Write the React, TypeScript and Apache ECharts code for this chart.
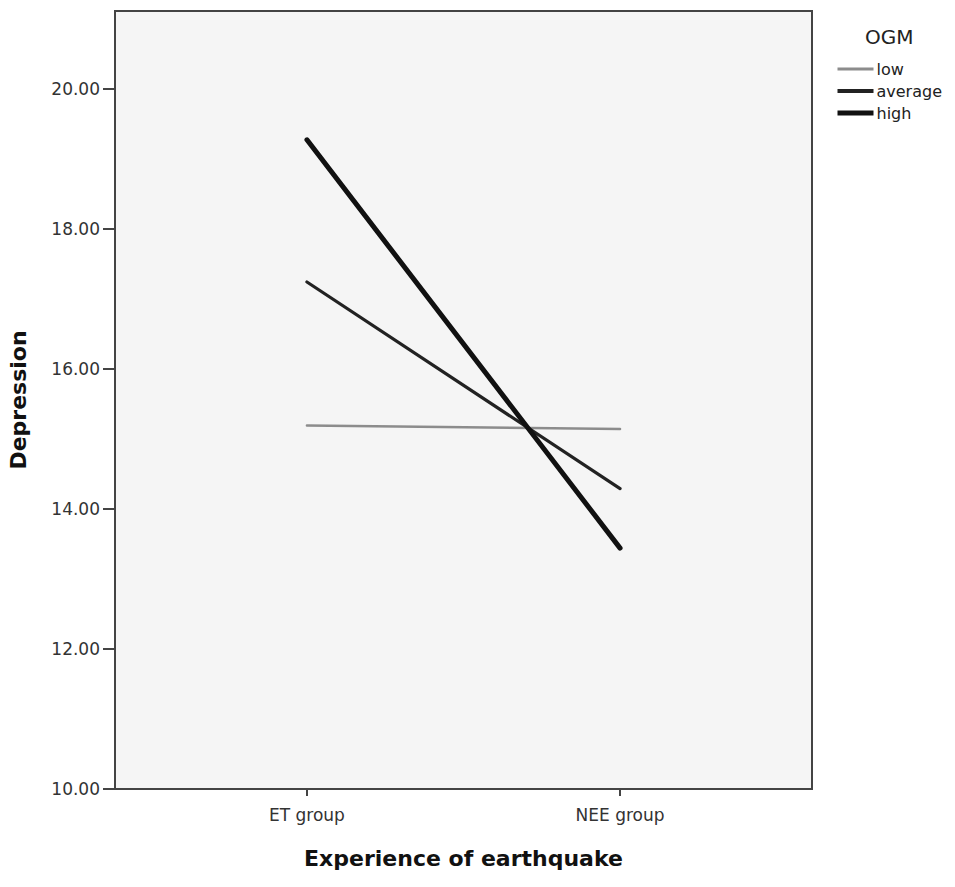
import React, { useEffect, useRef } from "react";
import * as echarts from "echarts";

const categories = ["ET group", "NEE group"];
const seriesNames = ["low", "average", "high"];
const lowValues = [15.19, 15.14];
const averageValues = [17.24, 14.29];
const highValues = [19.27, 13.44];
const yTicks = [10, 12, 14, 16, 18, 20];

const FONT = "'DejaVu Sans', sans-serif";

export default function App() {
  const ref = useRef<HTMLDivElement>(null);
  useEffect(() => {
    if (!ref.current) return;
    const chart = echarts.init(ref.current, undefined, { renderer: "svg" });
    const toPts = (vals: number[]) => vals.map((v, i) => [i + 1, v]);
    const styles = [
      { color: "#8c8c8c", width: 2.5, legendWidth: 3 },
      { color: "#222222", width: 3.2, legendWidth: 4 },
      { color: "#111111", width: 5, legendWidth: 5 },
    ];
    const all = [lowValues, averageValues, highValues];
    chart.setOption({
      animation: false,
      backgroundColor: "#ffffff",
      title: {
        text: "OGM",
        left: 860,
        top: 22,
        textStyle: { fontFamily: FONT, fontSize: 20, fontWeight: "normal", color: "#222" },
      },
      legend: {
        orient: "vertical",
        left: 830,
        top: 56,
        itemWidth: 36,
        itemHeight: 14,
        itemGap: 6,
        data: seriesNames.map((name, i) => ({
          name,
          lineStyle: { width: styles[i].legendWidth, color: styles[i].color, cap: "butt" },
        })),
        itemStyle: { opacity: 0 },
        textStyle: { fontFamily: FONT, fontSize: 16, color: "#222", padding: [0, 0, 0, -2] },
      },
      grid: {
        left: 115,
        top: 11,
        right: 143,
        bottom: 98,
        containLabel: false,
        outerBoundsMode: "none",
        show: true,
        backgroundColor: "#f5f5f5",
        borderColor: "#444",
        borderWidth: 2,
      },
      xAxis: {
        type: "value",
        min: 0.387,
        max: 2.613,
        name: "Experience of earthquake",
        nameLocation: "middle",
        nameGap: 58,
        nameTextStyle: { fontFamily: FONT, fontSize: 22, fontWeight: "bold", color: "#111" },
        splitLine: { show: false },
        axisLine: { show: true, lineStyle: { color: "#444", width: 2 } },
        axisTick: { show: true, customValues: [1, 2], length: 7, lineStyle: { color: "#444", width: 2 } },
        axisLabel: {
          customValues: [1, 2],
          margin: 17,
          fontFamily: FONT,
          fontSize: 17,
          color: "#333",
          formatter: (v: number) => categories[Math.round(v) - 1] ?? "",
        },
      },
      yAxis: {
        type: "value",
        min: 10,
        max: 21.11,
        interval: 2,
        name: "Depression",
        nameLocation: "middle",
        nameGap: 86,
        nameRotate: 90,
        nameTextStyle: { fontFamily: FONT, fontSize: 22, fontWeight: "bold", color: "#111" },
        splitLine: { show: false },
        axisLine: { show: true, lineStyle: { color: "#444", width: 2 } },
        axisTick: { show: true, customValues: yTicks, length: 12, lineStyle: { color: "#444", width: 2 } },
        axisLabel: {
          customValues: yTicks,
          margin: 15,
          fontFamily: FONT,
          fontSize: 17,
          color: "#333",
          formatter: (v: number) => v.toFixed(2),
        },
      },
      series: seriesNames.map((name, i) => ({
        name,
        type: "line",
        data: toPts(all[i]),
        symbol: "none",
        color: styles[i].color,
        lineStyle: { color: styles[i].color, width: styles[i].width, cap: "round" },
      })),
    });
    return () => chart.dispose();
  }, []);
  return (
    <div
      ref={ref}
      style={{ position: "fixed", left: 0, top: 0, width: 955, height: 887 }}
    />
  );
}
